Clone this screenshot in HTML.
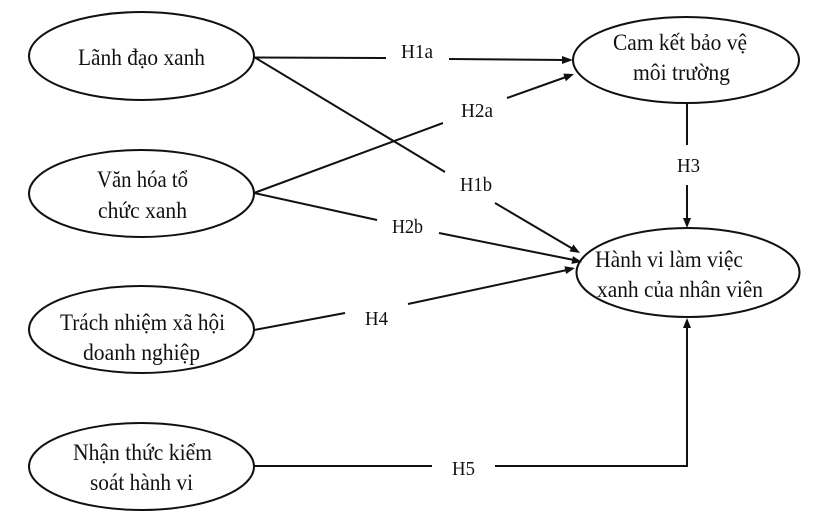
<!DOCTYPE html>
<html>
<head>
<meta charset="utf-8">
<style>
html,body{margin:0;padding:0;background:#fff;}
svg{display:block;}
text{font-family:"Liberation Serif","DejaVu Serif",serif;fill:#111;}
.n{font-size:23px;}
.l{font-size:20px;}
</style>
</head>
<body>
<svg width="828" height="519" viewBox="0 0 828 519" xmlns="http://www.w3.org/2000/svg">
<rect width="828" height="519" fill="#fff"/>
<g fill="none" stroke="#111" stroke-width="2">
  <ellipse cx="141.5" cy="56" rx="112.5" ry="44"/>
  <ellipse cx="141.5" cy="193.5" rx="112.5" ry="43.5"/>
  <ellipse cx="141.5" cy="329.5" rx="112.5" ry="43.5"/>
  <ellipse cx="141.5" cy="466.5" rx="112.5" ry="43.5"/>
  <ellipse cx="686" cy="60" rx="113" ry="43"/>
  <ellipse cx="688" cy="272.5" rx="111.5" ry="44.5"/>
</g>
<g fill="none" stroke="#111" stroke-width="2">
  <!-- H1a -->
  <line x1="254" y1="57.5" x2="386" y2="58"/>
  <line x1="449" y1="59" x2="565" y2="60"/>
  <!-- H1b -->
  <line x1="254" y1="57" x2="445" y2="172"/>
  <line x1="495" y1="203" x2="573" y2="249"/>
  <!-- H2a -->
  <line x1="254" y1="193" x2="443" y2="123"/>
  <line x1="507" y1="98" x2="566" y2="77"/>
  <!-- H2b -->
  <line x1="254" y1="193" x2="377" y2="220"/>
  <line x1="439" y1="233" x2="574" y2="260"/>
  <!-- H4 -->
  <line x1="254" y1="330" x2="345" y2="313"/>
  <line x1="408" y1="304" x2="567" y2="270"/>
  <!-- H5 -->
  <line x1="254" y1="466" x2="432" y2="466"/>
  <polyline points="495,466 687,466 687,326"/>
  <!-- H3 -->
  <line x1="687" y1="103" x2="687" y2="145"/>
  <line x1="687" y1="185" x2="687" y2="220"/>
</g>
<g fill="#111" stroke="none">
  <polygon points="573,60 562,56 562,64"/>
  <polygon points="574,74 565.9,81.2 563.3,73.6"/>
  <polygon points="580,253 569.4,251.4 573.4,244.5"/>
  <polygon points="582,262 571.4,263.9 573,256.1"/>
  <polygon points="575,268 566.1,274 564.4,266.2"/>
  <polygon points="687,228 683,218 691,218"/>
  <polygon points="687,318 683,328 691,328"/>
</g>
<!-- node texts -->
<text class="n" x="78" y="65" textLength="127" lengthAdjust="spacingAndGlyphs">Lãnh đạo xanh</text>
<text class="n" x="97" y="187" textLength="91" lengthAdjust="spacingAndGlyphs">Văn hóa tổ</text>
<text class="n" x="98" y="218" textLength="89" lengthAdjust="spacingAndGlyphs">chức xanh</text>
<text class="n" x="60" y="330" textLength="165" lengthAdjust="spacingAndGlyphs">Trách nhiệm xã hội</text>
<text class="n" x="83" y="360" textLength="117" lengthAdjust="spacingAndGlyphs">doanh nghiệp</text>
<text class="n" x="73" y="460" textLength="139" lengthAdjust="spacingAndGlyphs">Nhận thức kiểm</text>
<text class="n" x="90" y="490" textLength="103" lengthAdjust="spacingAndGlyphs">soát hành vi</text>
<text class="n" x="613" y="50" textLength="134" lengthAdjust="spacingAndGlyphs">Cam kết bảo vệ</text>
<text class="n" x="633" y="80" textLength="97" lengthAdjust="spacingAndGlyphs">môi trường</text>
<text class="n" x="595" y="267" textLength="148" lengthAdjust="spacingAndGlyphs">Hành vi làm việc</text>
<text class="n" x="597" y="297" textLength="166" lengthAdjust="spacingAndGlyphs">xanh của nhân viên</text>
<!-- labels -->
<text class="l" x="401" y="58" textLength="32" lengthAdjust="spacingAndGlyphs">H1a</text>
<text class="l" x="461" y="117" textLength="32" lengthAdjust="spacingAndGlyphs">H2a</text>
<text class="l" x="460" y="191" textLength="32" lengthAdjust="spacingAndGlyphs">H1b</text>
<text class="l" x="392" y="233" textLength="31" lengthAdjust="spacingAndGlyphs">H2b</text>
<text class="l" x="365" y="325" textLength="23" lengthAdjust="spacingAndGlyphs">H4</text>
<text class="l" x="452" y="475" textLength="23" lengthAdjust="spacingAndGlyphs">H5</text>
<text class="l" x="677" y="172" textLength="23" lengthAdjust="spacingAndGlyphs">H3</text>
</svg>
</body>
</html>
